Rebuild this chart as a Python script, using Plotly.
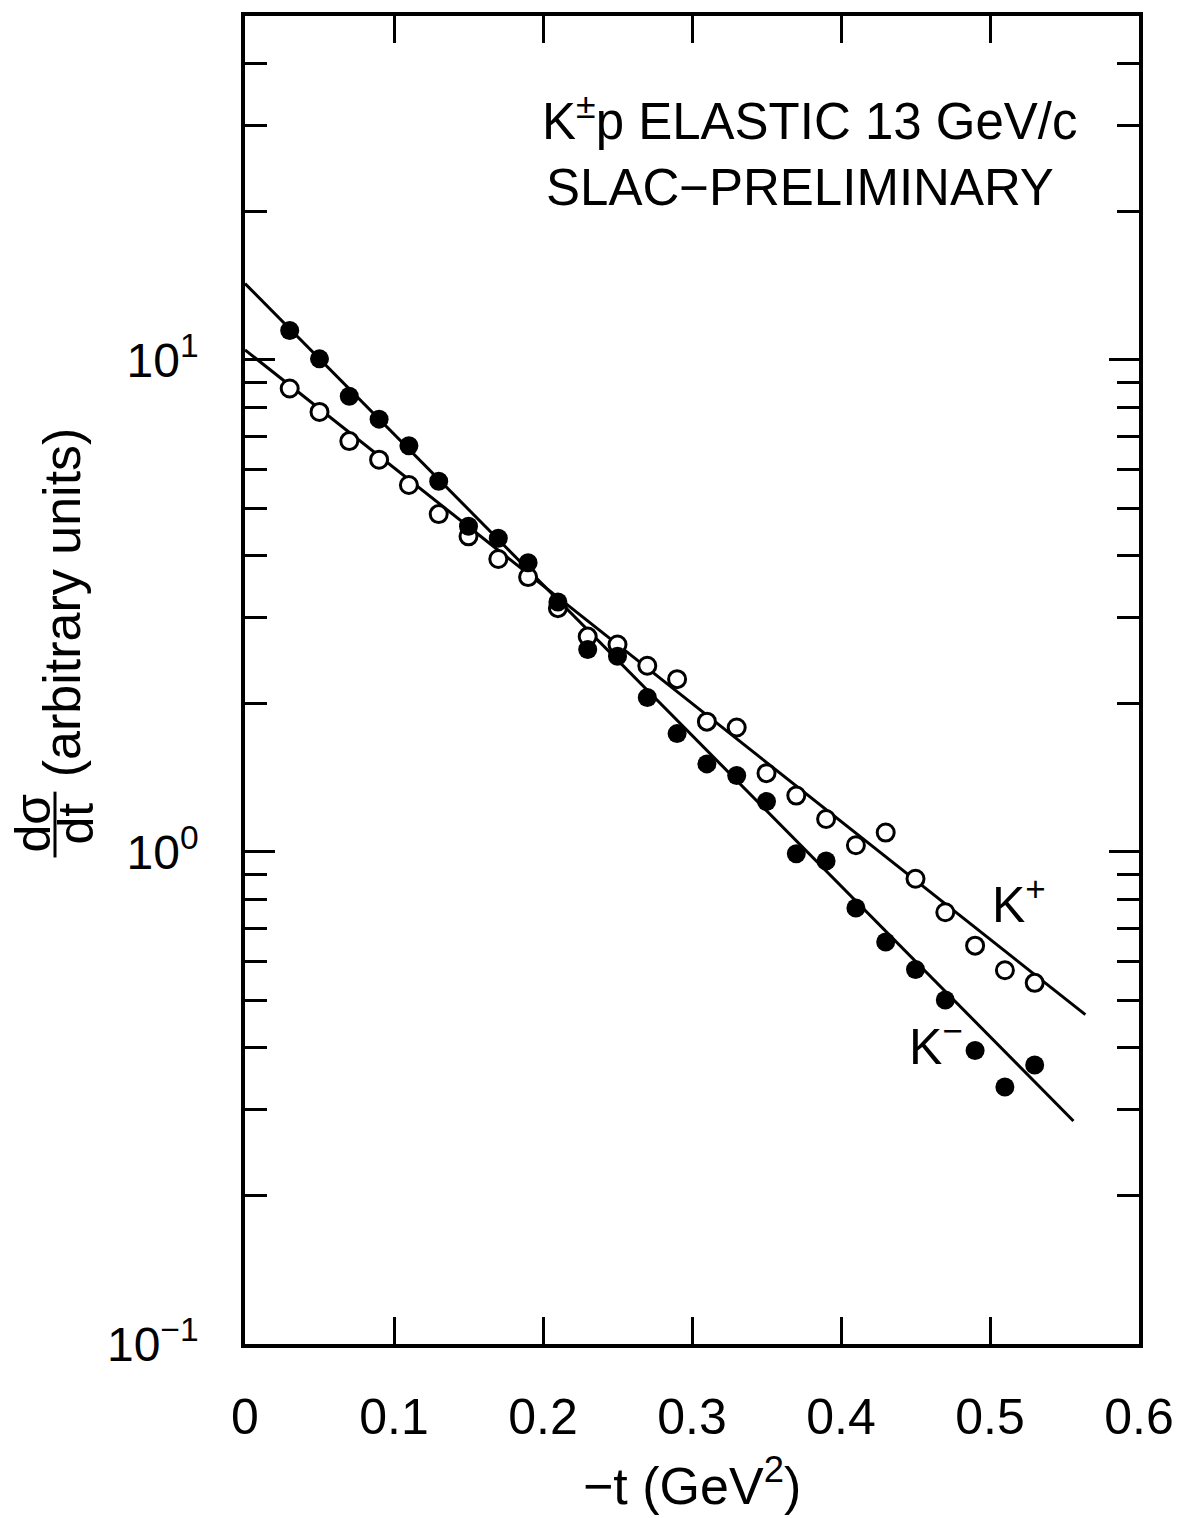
import plotly.graph_objects as go

# ---------------- data ----------------
t_kminus = [0.03, 0.05, 0.07, 0.09, 0.11, 0.13, 0.15, 0.17, 0.19, 0.21, 0.23, 0.25, 0.27,
            0.29, 0.31, 0.33, 0.35, 0.37, 0.39, 0.41, 0.43, 0.45, 0.47, 0.49, 0.51, 0.53]
dsdt_kminus = [11.48, 10.05, 8.44, 7.58, 6.69, 5.67, 4.59, 4.34, 3.87, 3.22, 2.58, 2.50, 2.06,
               1.74, 1.51, 1.43, 1.266, 0.992, 0.959, 0.769, 0.656, 0.577, 0.50, 0.395, 0.333, 0.369]

t_kplus = [0.03, 0.05, 0.07, 0.09, 0.11, 0.13, 0.15, 0.17, 0.19, 0.21, 0.23, 0.25, 0.27,
           0.29, 0.31, 0.33, 0.35, 0.37, 0.39, 0.41, 0.43, 0.45, 0.47, 0.49, 0.51, 0.53]
dsdt_kplus = [8.75, 7.84, 6.84, 6.27, 5.57, 4.86, 4.38, 3.94, 3.62, 3.13, 2.74, 2.64, 2.39,
              2.245, 1.84, 1.79, 1.446, 1.302, 1.167, 1.032, 1.095, 0.882, 0.754, 0.645, 0.575, 0.542]

fit_kplus_t = [0.0, 0.564]
fit_kplus_y = [10.48, 0.467]
fit_kminus_t = [0.0, 0.556]
fit_kminus_y = [14.3, 0.284]

x_tickvals = [0, 0.1, 0.2, 0.3, 0.4, 0.5, 0.6]
x_ticktext = ["0", "0.1", "0.2", "0.3", "0.4", "0.5", "0.6"]
y_tickvals = [0.1, 1, 10]
y_ticktext = ["10<sup>−1</sup>", "10<sup>0</sup>", "10<sup>1</sup>"]
y_minorvals = [0.2, 0.3, 0.4, 0.5, 0.6, 0.7, 0.8, 0.9,
               2, 3, 4, 5, 6, 7, 8, 9, 20, 30, 40]

# ---------------- layout geometry ----------------
W, H = 1191, 1518
L, R, T, B = 245, 52, 12, 174
PW = W - L - R
PH = H - T - B


def xp(px):
    return (px - L) / PW


def yp(py):
    return (H - B - py) / PH


FONT = "Liberation Sans"

fig = go.Figure()

fig.add_trace(go.Scatter(x=fit_kplus_t, y=fit_kplus_y, mode="lines",
                         line=dict(color="black", width=3), hoverinfo="skip"))
fig.add_trace(go.Scatter(x=fit_kminus_t, y=fit_kminus_y, mode="lines",
                         line=dict(color="black", width=3), hoverinfo="skip"))
fig.add_trace(go.Scatter(x=t_kplus, y=dsdt_kplus, mode="markers", name="K+",
                         marker=dict(symbol="circle", size=17, color="white",
                                     line=dict(color="black", width=3))))
fig.add_trace(go.Scatter(x=t_kminus, y=dsdt_kminus, mode="markers", name="K-",
                         marker=dict(symbol="circle", size=19, color="black",
                                     line=dict(color="black", width=0))))

axis_common = dict(showline=True, linewidth=3.5, linecolor="black", mirror="ticks",
                   showgrid=False, zeroline=False, ticks="inside",
                   tickcolor="black", tickwidth=3)

fig.update_xaxes(range=[0, 0.6], tickmode="array", tickvals=x_tickvals, ticktext=x_ticktext,
                 ticklen=27, tickfont=dict(family=FONT, size=50, color="black"),
                 ticklabelstandoff=26, **axis_common)
fig.update_yaxes(type="log", range=[-1, 1.699], tickmode="array", tickvals=y_tickvals,
                 ticktext=y_ticktext, ticklen=30,
                 tickfont=dict(family=FONT, size=48, color="black"),
                 ticklabelstandoff=33,
                 minor=dict(tickmode="array", tickvals=y_minorvals, ticks="inside",
                            ticklen=22, tickwidth=3, tickcolor="black"),
                 **axis_common)

ann = []
# header
ann.append(dict(text="K<sup>±</sup>p ELASTIC 13 GeV/c", x=xp(810), y=yp(114),
                font=dict(family=FONT, size=51, color="black")))
ann.append(dict(text="SLAC−PRELIMINARY", x=xp(800), y=yp(184),
                font=dict(family=FONT, size=51, color="black")))
# curve labels
ann.append(dict(text="K<sup>+</sup>", x=xp(990), y=yp(900), xanchor="left",
                font=dict(family=FONT, size=50, color="black")))
ann.append(dict(text="K<sup>−</sup>", x=xp(907), y=yp(1042), xanchor="left",
                font=dict(family=FONT, size=50, color="black")))
# x title
ann.append(dict(text="−t (GeV<sup>2</sup>)", x=0.5, y=yp(1482),
                font=dict(family=FONT, size=52, color="black")))
# y title: fraction d(sigma)/dt + (arbitrary units)
ann.append(dict(text="dσ", x=xp(33), y=yp(822), textangle=-90,
                font=dict(family=FONT, size=50, color="black")))
ann.append(dict(text="dt", x=xp(76), y=yp(822), textangle=-90,
                font=dict(family=FONT, size=50, color="black")))
ann.append(dict(text="(arbitrary units)", x=xp(62), y=yp(600), textangle=-90,
                font=dict(family=FONT, size=52, color="black")))

for a in ann:
    a.setdefault("xanchor", "center")
    a.setdefault("yanchor", "middle")
    a.update(xref="paper", yref="paper", showarrow=False)

fig.update_layout(
    width=W, height=H,
    margin=dict(l=L, r=R, t=T, b=B),
    plot_bgcolor="white", paper_bgcolor="white",
    showlegend=False,
    annotations=ann,
    shapes=[dict(type="line", xref="paper", yref="paper",
                 x0=xp(55), x1=xp(55), y0=yp(790), y1=yp(856),
                 line=dict(color="black", width=3))],
)

fig.write_html("out.html")
